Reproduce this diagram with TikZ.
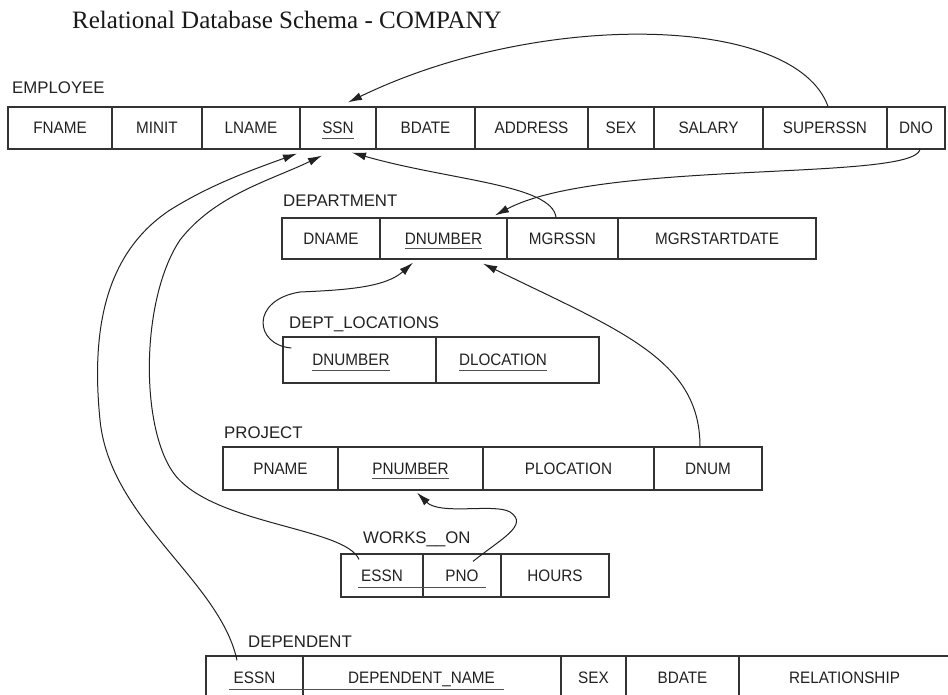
\documentclass[tikz,border=0pt]{standalone}
\usepackage{fontspec}
\usetikzlibrary{calc,arrows.meta}
\newfontfamily\cellfont[FakeStretch=0.92]{Liberation Sans}
\newfontfamily\labfont{Liberation Sans}
\newfontfamily\titlefont{Liberation Serif}
\definecolor{ink}{HTML}{222222}
\definecolor{boxline}{HTML}{333333}
\definecolor{keygray}{HTML}{505050}
\newcommand{\ukey}[1]{\setbox0=\hbox{#1}\rlap{\smash{\color{keygray}\rule[-4.6pt]{\wd0}{0.9pt}}}\box0}
\tikzset{
  cell/.style={draw=boxline, line width=1.2pt, inner sep=0pt, text height=11.8pt, text depth=0pt,
    text=ink, font=\cellfont\fontsize{16.6pt}{18pt}\selectfont},
  tlabel/.style={anchor=base west, inner sep=0pt, text=ink, font=\labfont\fontsize{16.8pt}{18pt}\selectfont},
  fk/.style={draw=ink, line width=1pt, -{Latex[length=14pt,width=8pt]}},
  keyln/.style={draw=keygray, line width=0.9pt},
  rowE/.style={cell, minimum height=42pt},
  rowD/.style={cell, minimum height=41pt},
  rowL/.style={cell, minimum height=46pt},
  rowP/.style={cell, minimum height=43pt},
  rowW/.style={cell, minimum height=43pt},
  rowX/.style={cell, minimum height=43pt}
}
\begin{document}
\begin{tikzpicture}[x=1pt,y=-1pt]
\useasboundingbox (0,0) rectangle (948,695);
\clip (0,0) rectangle (948,695);
\fill[white] (0,0) rectangle (948,695);

% title
\node[anchor=base west, inner sep=0pt, text=black!90, font=\titlefont\fontsize{25pt}{28pt}\selectfont] (title) at (72,28.5) {Relational Database Schema - COMPANY};

% EMPLOYEE
\node[tlabel] (lblE) at (12,94) {EMPLOYEE};
\node[rowE, minimum width=104pt] (eFname) at (60,128) {FNAME};
\node[rowE, minimum width=90pt] (eMinit) at (157,128) {MINIT};
\node[rowE, minimum width=98pt] (eLname) at (251,128) {LNAME};
\node[rowE, minimum width=76pt] (eSsn) at (338,128) {\ukey{SSN}};
\node[rowE, minimum width=99pt] (eBdate) at (425.5,128) {BDATE};
\node[rowE, minimum width=113pt] (eAddress) at (531.5,128) {ADDRESS};
\node[rowE, minimum width=66pt] (eSex) at (621,128) {SEX};
\node[rowE, minimum width=109pt] (eSalary) at (708.5,128) {SALARY};
\node[rowE, minimum width=124pt] (eSuperssn) at (825,128) {SUPERSSN};
\node[rowE, minimum width=58pt] (eDno) at (916,128) {DNO};

% DEPARTMENT
\node[tlabel] (lblD) at (283,207) {DEPARTMENT};
\node[rowD, minimum width=98pt] (dName) at (331,238.5) {DNAME};
\node[rowD, minimum width=127pt] (dNumber) at (443.5,238.5) {\ukey{DNUMBER}};
\node[rowD, minimum width=111pt] (dMgrssn) at (562.5,238.5) {MGRSSN};
\node[rowD, minimum width=198pt] (dStart) at (717,238.5) {MGRSTARTDATE};

% DEPT_LOCATIONS
\node[tlabel] (lblL) at (289,328) {DEPT\_LOCATIONS};
\node[rowL, minimum width=153pt] (lNumber) at (359.5,360) {\kern-17pt\ukey{DNUMBER}};
\node[rowL, minimum width=163pt] (lLocation) at (517.5,360) {\kern-29pt\ukey{DLOCATION}};

% PROJECT
\node[tlabel] (lblP) at (224,438) {PROJECT};
\node[rowP, minimum width=115pt] (pName) at (280.5,468.5) {PNAME};
\node[rowP, minimum width=145pt] (pNumber) at (410.5,468.5) {\ukey{PNUMBER}};
\node[rowP, minimum width=171pt] (pLocation) at (568.5,468.5) {PLOCATION};
\node[rowP, minimum width=108pt] (pDnum) at (708,468.5) {DNUM};

% WORKS_ON
\node[tlabel] (lblW) at (363,543) {WORKS\_\_ON};
\node[rowW, minimum width=82pt] (wEssn) at (382,575.5) {ESSN};
\node[rowW, minimum width=78pt] (wPno) at (462,575.5) {PNO};
\node[rowW, minimum width=108pt] (wHours) at (555,575.5) {HOURS};
\draw[keyln] ($(wEssn.south west)+(18,-10)$) -- ($(wPno.south east)+(-16,-10)$);

% DEPENDENT
\node[tlabel] (lblX) at (248,647) {DEPENDENT};
\node[rowX, minimum width=97pt] (xEssn) at (254.5,677.5) {ESSN};
\node[rowX, minimum width=258pt] (xName) at (432,677.5) {\kern-21pt DEPENDENT\_NAME};
\node[rowX, minimum width=65pt] (xSex) at (593.5,677.5) {SEX};
\node[rowX, minimum width=113pt] (xBdate) at (682.5,677.5) {BDATE};
\node[rowX, minimum width=211pt] (xRel) at (844.5,677.5) {RELATIONSHIP};
\draw[keyln] ($(xEssn.south west)+(24,-10)$) -- ($(xName.south east)+(-58,-10)$);

% waypoints
\coordinate (m4) at (300,292);
\coordinate (m6) at (510,512);
\coordinate (m7a) at (175,475);
\coordinate (m7b) at (180,240);
\coordinate (m8a) at (100,420);
\coordinate (m8b) at (170,210);

% SUPERSSN -> SSN
\draw[fk] ($(eSuperssn.north)+(3,0)$) .. controls +(-33,-92) and +(192,-93) .. ($(eSsn.north)+(10,-4)$);
% DNO -> DNUMBER
\draw[fk] ($(eDno.south)+(4,0)$) .. controls +(-8,32) and +(105,-56) .. ($(dNumber.north)+(51.5,-2)$);
% MGRSSN -> SSN
\draw[fk] ($(dMgrssn.north)+(-6.5,0)$) .. controls +(-4,-33) and +(98,28) .. ($(eSsn.south)+(14,3)$);
% DEPT_LOCATIONS.DNUMBER -> DNUMBER
\draw[fk] ($(lNumber.west)+(9,-12)$) .. controls +(-37,-3) and +(-50,8) .. (m4)
  .. controls +(45,-2) and +(-28,25) .. ($(dNumber.south)+(-30.5,3)$);
% DNUM -> DNUMBER
\draw[fk] ($(pDnum.north)+(-8,0)$) .. controls +(0,-87) and +(137,67) .. ($(dNumber.south)+(39.5,4)$);
% PNO -> PNUMBER
\draw[fk] ($(wPno.north)+(11,8)$) .. controls +(27,-22) and +(20,13) .. (m6)
  .. controls +(-15,-9) and +(23,23) .. ($(pNumber.south)+(6.5,2)$);
% WORKS_ON.ESSN -> SSN
\draw[fk] ($(wEssn.north)+(-23,6)$) .. controls +(-14,-32) and +(40,50) .. (m7a)
  .. controls +(-35,-45) and +(-40,60) .. (m7b)
  .. controls +(35,-45) and +(-52,25) .. ($(eSsn.south)+(-16,6)$);
% DEPENDENT.ESSN -> SSN
\draw[fk] ($(xEssn.north)+(-17.5,5)$) .. controls +(-17,-80) and +(10,100) .. (m8a)
  .. controls +(-10,-100) and +(-60,40) .. (m8b)
  .. controls +(40,-25) and +(-47,17) .. ($(eSsn.south)+(-41,4)$);
\end{tikzpicture}
\end{document}
